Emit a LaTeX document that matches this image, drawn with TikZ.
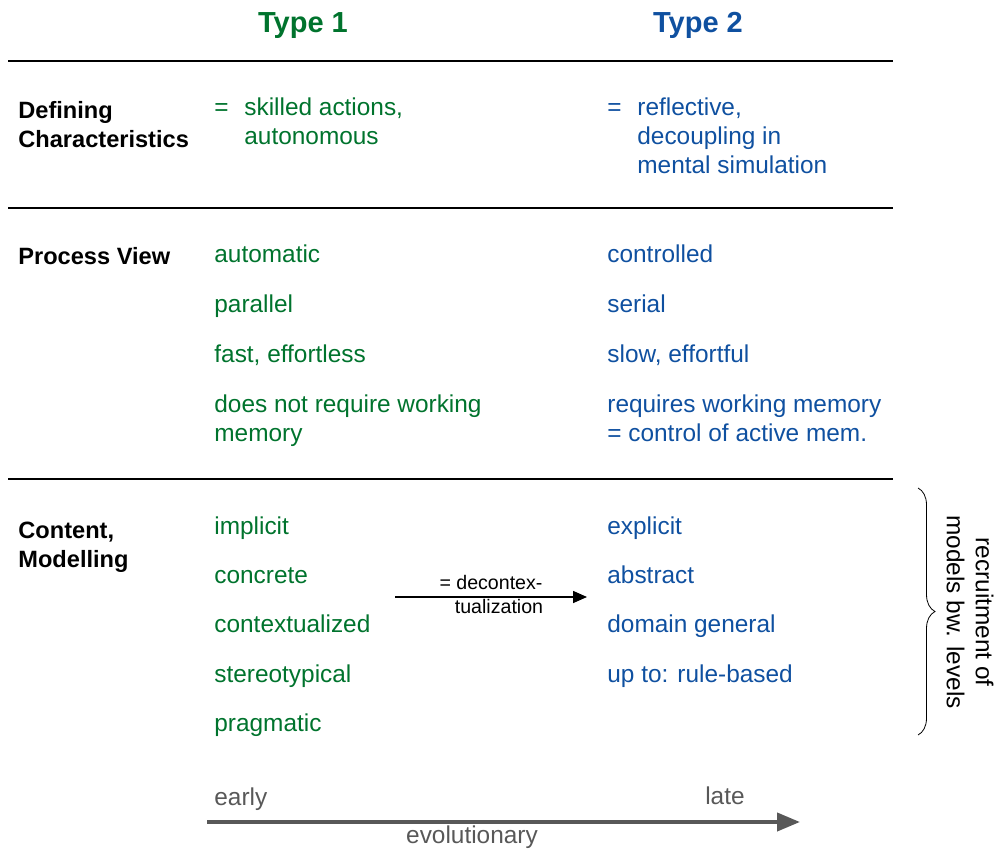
\documentclass[tikz,border=0pt]{standalone}
\usepackage{fontspec}
\setmainfont{Liberation Sans}
\usetikzlibrary{decorations.pathreplacing,arrows.meta}
\definecolor{typeone}{RGB}{0,115,45}
\definecolor{typetwo}{RGB}{15,80,160}
\definecolor{evogray}{RGB}{88,88,88}

\begin{document}
\begin{tikzpicture}[x=0.5pt, y=-0.5pt, inner sep=0pt,
    font=\fontsize{12.2}{14.5}\selectfont,
    every node/.style={anchor=base west, align=left},
    rowhead/.style={font=\fontsize{11.8}{14.5}\selectfont\bfseries},
    colhead/.style={anchor=base, font=\fontsize{14.5}{17}\selectfont\bfseries},
    sep/.style={line width=0.8pt}]
    \useasboundingbox (0,0) rectangle (996,850);
    % column heads
    \node[colhead, typeone] (t1) at (303,33) {Type 1};
    \node[colhead, typetwo] (t2) at (698,33) {Type 2};
    \draw[sep] (8,61) -- (893,61);
    \draw[sep] (8,208) -- (893,208);
    \draw[sep] (8,479) -- (893,479);
    % defining characteristics (multi-line nodes sit on their last line)
    \node[rowhead] (defhead) at (18,148) {Defining\\Characteristics};
    \node[typeone] (def1eq) at (214,116) {=};
    \node[typeone] (def1) at (244,145) {skilled actions,\\autonomous};
    \node[typetwo] (def2eq) at (607,116) {=};
    \node[typetwo] (def2) at (637,174) {reflective,\\decoupling in\\mental simulation};
    % process view
    \node[rowhead] (prochead) at (18,265) {Process View};
    \foreach \txt [count=\i] in {automatic, parallel, {fast, effortless}}
        \node[typeone] (proc1\i) at (214,213+\i*49.7) {\txt};
    \node[typeone] (proc14) at (214,441) {does not require working\\memory};
    \foreach \txt [count=\i] in {controlled, serial, {slow, effortful}}
        \node[typetwo] (proc2\i) at (607,213+\i*49.7) {\txt};
    \node[typetwo] (proc24) at (607,441) {requires working memory\\= control of active mem.};
    % content, modelling
    \node[rowhead] (conthead) at (18,567) {Content,\\Modelling};
    \foreach \txt [count=\i] in {implicit, concrete, contextualized, stereotypical, pragmatic}
        \node[typeone] (cont1\i) at (214,485+\i*49.3) {\txt};
    \foreach \txt [count=\i] in {explicit, abstract, domain general, {up to: rule-based}}
        \node[typetwo] (cont2\i) at (607,485+\i*49.3) {\txt};
    \coordinate (decstart) at (395,597);
    \coordinate (decend) at (587,597);
    \draw[line width=0.8pt, -{Triangle[length=7pt, width=6pt]}] (decstart) -- (decend)
        node[midway, anchor=base, yshift=4pt, font=\fontsize{9.8}{11}\selectfont] (dec1) {= decontex-}
        node[midway, anchor=base, yshift=-8pt, font=\fontsize{9.8}{11}\selectfont, xshift=4pt] (dec2) {tualization};
    % brace
    \coordinate (brtop) at (918,488);
    \coordinate (brbot) at (918,735);
    \draw[decorate, decoration={brace, amplitude=8.5pt}] (brtop) -- (brbot);
    \node[anchor=center, align=center, rotate=-90] (recruit) at (970,612) {recruitment of\\models bw. levels};
    % evolutionary axis
    \node[evogray] (early) at (214,805) {early};
    \node[evogray, anchor=base east] (late) at (745,804) {late};
    \coordinate (evostart) at (207,822);
    \coordinate (evoend) at (800,822);
    \draw[evogray, line width=2pt, -{Triangle[length=11.5pt, width=9pt]}] (evostart) -- (evoend);
    \node[evogray, anchor=base] (evo) at (472,843) {evolutionary};
\end{tikzpicture}
\end{document}
